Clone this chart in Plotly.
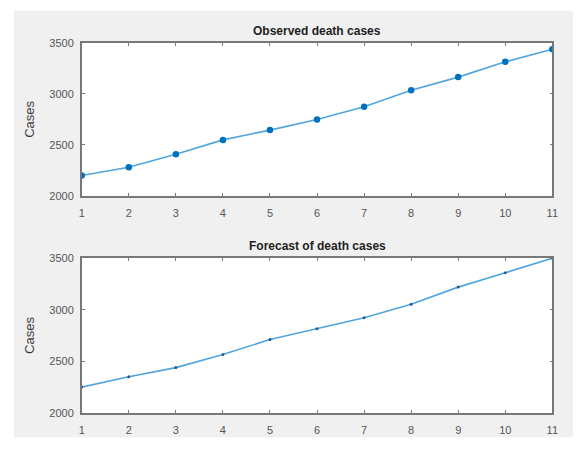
import plotly.graph_objects as go

# Time steps and case counts
steps = list(range(1, 12))
observed_cases = [2200, 2281, 2409, 2549, 2645, 2750, 2874, 3037, 3165, 3315, 3439]
forecast_cases = [2250, 2351, 2439, 2565, 2711, 2815, 2922, 3052, 3219, 3358, 3500]

x_ticks = list(range(1, 12))
y_ticks = [2000, 2500, 3000, 3500]

W, H = 579, 452
LINE = "rgb(80,165,222)"
MARK = "rgb(0,114,189)"
AXIS = "rgb(120,120,120)"
FONT = "Liberation Sans, Arial, sans-serif"
TICKFONT = dict(family=FONT, size=11, color="rgb(85,85,85)")

fig = go.Figure()

fig.add_trace(go.Scatter(
    x=steps, y=observed_cases, mode="lines+markers",
    line=dict(color=LINE, width=1.6),
    marker=dict(color=MARK, size=6.5),
    xaxis="x", yaxis="y", showlegend=False,
))
fig.add_trace(go.Scatter(
    x=steps, y=forecast_cases, mode="lines+markers",
    line=dict(color=LINE, width=1.6),
    marker=dict(color="rgb(40,90,140)", size=3),
    xaxis="x2", yaxis="y2", showlegend=False,
))

x_dom = [80 / W, 558 / W]
top_dom = [1 - 195 / H, 1 - 38 / H]
bot_dom = [1 - 418 / H, 1 - 259 / H]

def xaxis_style(anchor):
    return dict(
        domain=x_dom, anchor=anchor, range=[1, 11], tickvals=x_ticks,
        ticks="inside", ticklen=3, tickcolor=AXIS, showline=True,
        linecolor=AXIS, linewidth=1.5, mirror="ticks", showgrid=False,
        zeroline=False, tickfont=TICKFONT, fixedrange=True,
        ticklabelstandoff=6,
    )

def yaxis_style(anchor, dom):
    return dict(
        domain=dom, anchor=anchor, range=[2000, 3500], tickvals=y_ticks,
        ticks="inside", ticklen=3, tickcolor=AXIS, showline=True,
        linecolor=AXIS, linewidth=1.5, mirror="ticks", showgrid=False,
        zeroline=False, tickfont=TICKFONT, fixedrange=True,
        ticklabelstandoff=4,
        title=dict(text="Cases", font=dict(family=FONT, size=13, color="rgb(60,60,60)"),
                   standoff=12),
    )

def panel(dom_x, dom_y, color, pad=(0, 0, 0, 0)):
    return dict(
        type="rect", xref="paper", yref="paper", layer="below",
        x0=dom_x[0], x1=dom_x[1], y0=dom_y[0], y1=dom_y[1],
        fillcolor=color, line=dict(width=0),
    )

fig.update_layout(
    width=W, height=H,
    margin=dict(l=0, r=0, t=0, b=0),
    paper_bgcolor="white",
    plot_bgcolor="rgba(0,0,0,0)",
    xaxis=xaxis_style("y"),
    yaxis=yaxis_style("x", top_dom),
    xaxis2=xaxis_style("y2"),
    yaxis2=yaxis_style("x2", bot_dom),
    shapes=[
        panel([11 / W, 1], [1 - 443 / H, 1 - 5 / H], "rgb(240,240,240)"),
        panel(x_dom, top_dom, "white"),
        panel(x_dom, bot_dom, "white"),
    ],
    annotations=[
        dict(text="<b>Observed death cases</b>", xref="paper", yref="paper",
             x=(x_dom[0] + x_dom[1]) / 2, y=top_dom[1], yanchor="bottom",
             yshift=3, showarrow=False,
             font=dict(family=FONT, size=12, color="rgb(30,30,30)")),
        dict(text="<b>Forecast of death cases</b>", xref="paper", yref="paper",
             x=(x_dom[0] + x_dom[1]) / 2, y=bot_dom[1], yanchor="bottom",
             yshift=3, showarrow=False,
             font=dict(family=FONT, size=12, color="rgb(30,30,30)")),
    ],
)

fig.write_html("out.html")
